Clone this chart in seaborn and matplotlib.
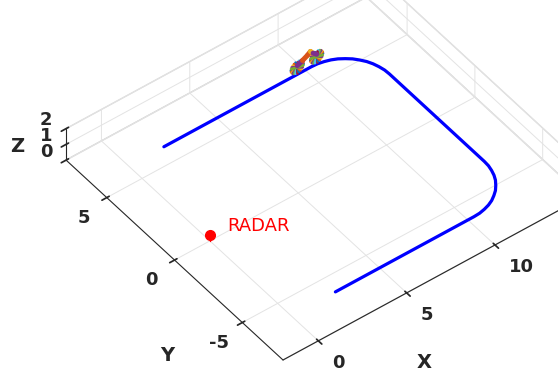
import numpy as np
import matplotlib
matplotlib.use("Agg")
import matplotlib.pyplot as plt
import seaborn as sns
from mpl_toolkits.mplot3d import proj3d

sns.set_theme(style="white")
plt.rcParams["font.family"] = ["DejaVu Sans"]
plt.rcParams["grid.color"] = "#e3e3e3"
plt.rcParams["grid.linewidth"] = 0.7

# ---------------- data ----------------
traj_x = [2.0, 10.35, 10.68, 11.0, 11.31, 11.6, 11.87, 12.12, 12.33, 12.52,
          12.66, 12.76, 12.83, 12.85,
          12.85, 12.83, 12.76, 12.66, 12.52, 12.33, 12.12, 11.87, 11.6,
          11.31, 11.0, 10.68, 10.35, 2.5]
traj_y = [6.0, 6.0, 5.98, 5.91, 5.81, 5.67, 5.48, 5.27, 5.02, 4.75,
          4.46, 4.15, 3.83, 3.5,
          -3.5, -3.83, -4.15, -4.46, -4.75, -5.02, -5.27, -5.48, -5.67,
          -5.81, -5.91, -5.98, -6.0, -6.0]
traj_z = [0.0] * len(traj_x)

radar_pos = (0.0, 0.0, 0.4)
radar_label = "RADAR"

wheel_x = [9.7, 10.8]
wheel_y = [6.2, 6.2]
wheel_z = [0.2, 0.2]
wheel_r = 0.36
spoke_deg = [0, 15, 30, 45, 60, 75, 90, 105, 120, 135, 150, 165]
body_x = [9.7, 10.0, 10.3, 10.45, 10.6, 10.8]
body_z = [0.3, 0.45, 0.62, 0.75, 0.55, 0.35]
body_colors = ["#7E2F8E", "#D95319", "#D95319", "#EDB120", "#7E2F8E"]

xticks = [0, 5, 10, 15]
xtick_labels = ["0", "5", "10", ""]
yticks = [-5, 0, 5]
zticks = [0, 1, 2]
xlim = (-2, 15)
ylim = (-8, 8)
zlim = (0, 2)

matlab_colors = ["#0072BD", "#D95319", "#EDB120", "#7E2F8E",
                 "#77AC30", "#4DBEEE", "#A2142F"]
palette = sns.color_palette(matlab_colors)

# ---------------- figure ----------------
W, H = 558, 374
fig = plt.figure(figsize=(W / 100, H / 100), dpi=100)
ax = fig.add_axes([0, 0, 1, 1], projection="3d", proj_type="ortho",
                  computed_zorder=False)
ax.view_init(elev=45, azim=-127.5)
ax.set_xlim(xlim)
ax.set_ylim(ylim)
ax.set_zlim(zlim)
ax.set_box_aspect((xlim[1] - xlim[0], ylim[1] - ylim[0], zlim[1] - zlim[0]))

for axis in (ax.xaxis, ax.yaxis, ax.zaxis):
    axis.set_pane_color((1, 1, 1, 1))
    axis.pane.set_edgecolor("#d8d8d8")
    axis.line.set_color("#262626")
    axis.line.set_linewidth(0.8)
    axis._axinfo["grid"].update(color="#e3e3e3", linewidth=0.7)
    axis._axinfo["tick"]["color"] = "#262626"

ax.set_xticks(xticks)
ax.set_yticks(yticks)
ax.set_zticks(zticks)
for axis in (ax.xaxis, ax.yaxis, ax.zaxis):
    axis.set_tick_params(labelbottom=False, labelleft=False)
ax.grid(True)

# trajectory
ax.plot(traj_x, traj_y, traj_z, color=(0, 0, 1), lw=2.3, zorder=3)

# radar
ax.plot([radar_pos[0], radar_pos[0]], [radar_pos[1], radar_pos[1]],
        [0, radar_pos[2]], color=(1, 0, 0), lw=1.0, zorder=4)
ax.plot([radar_pos[0]], [radar_pos[1]], [radar_pos[2]], "o",
        color=(1, 0, 0), ms=7, zorder=5)

# vehicle (multicoloured mesh-like glyph)
for wx, wy, wz in zip(wheel_x, wheel_y, wheel_z):
    for k, a in enumerate(spoke_deg):
        t = np.deg2rad(a)
        ax.plot([wx - wheel_r * np.cos(t), wx + wheel_r * np.cos(t)],
                [wy, wy],
                [wz - wheel_r * np.sin(t), wz + wheel_r * np.sin(t)],
                color=palette[k % 7], lw=2.0, zorder=6)
for k in range(len(body_x) - 1):
    ax.plot(body_x[k:k + 2], [wheel_y[0]] * 2, body_z[k:k + 2],
            color=body_colors[k], lw=3.6, zorder=7,
            solid_capstyle="round")


def to_px(x, y, z):
    xs, ys, _ = proj3d.proj_transform(x, y, z, ax.get_proj())
    px, py = ax.transData.transform((xs, ys))
    return np.array([px, H - py])


# place axes so that the box matches the reference framing
side = 520.0
c = np.array([280.0, 190.0])
target_p1 = np.array([283.0, 360.0])
target_len = 17 * 20.1
for _ in range(4):
    ax.set_position([(c[0] - side / 2) / W, (H - c[1] - side / 2) / H,
                     side / W, side / H])
    fig.canvas.draw()
    p1 = to_px(xlim[0], ylim[0], 0)
    p2 = to_px(xlim[1], ylim[0], 0)
    k = target_len / np.hypot(*(p2 - p1))
    side *= k
    c = target_p1 - k * (p1 - c)
ax.set_position([(c[0] - side / 2) / W, (H - c[1] - side / 2) / H,
                 side / W, side / H])
fig.canvas.draw()


def label_at(x, y, z, s, dx, dy, **kw):
    p = to_px(x, y, z) + np.array([dx, dy])
    return fig.text(p[0] / W, 1 - p[1] / H, s, **kw)


tick_kw = dict(fontsize=13, fontweight="bold", color="#262626", va="center")
for v, s in zip(xticks, xtick_labels):
    if s:
        label_at(v, ylim[0], 0, s, 14, 22, ha="left", **tick_kw)
for v in yticks:
    label_at(xlim[0], v, 0, str(v), -23, 20, ha="center", **tick_kw)
for v in zticks:
    label_at(xlim[0], ylim[1], v, str(v), -20, -8.5, ha="center", **tick_kw)

lab_kw = dict(fontsize=14, fontweight="bold", color="#262626",
              ha="center", va="center")
label_at(6.5, ylim[0], 0, "X", -9, 84, **lab_kw)
label_at(xlim[0], 0, 0, "Y", -7, 95, **lab_kw)
label_at(xlim[0], ylim[1], 1, "Z", -49, 2, **lab_kw)

label_at(*radar_pos, radar_label, 17, -9, ha="left", va="center",
         fontsize=13, color=(1, 0, 0))

fig.savefig("out.png", dpi=100)
